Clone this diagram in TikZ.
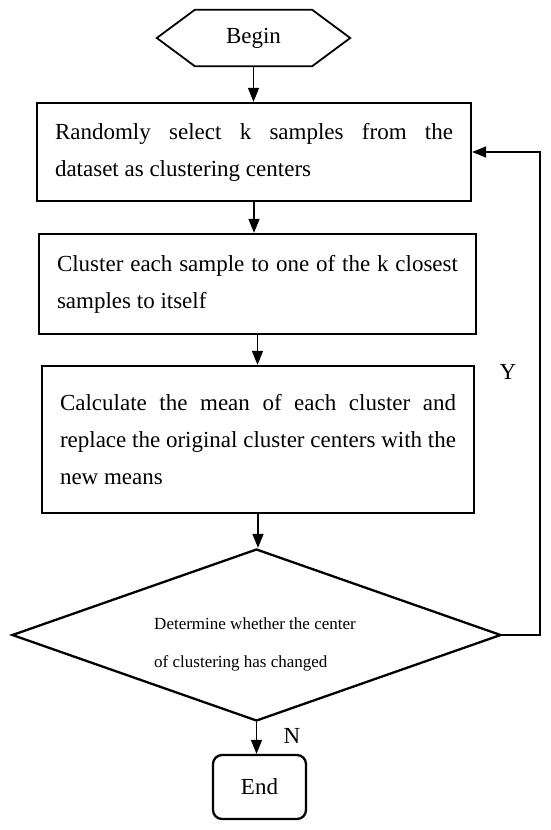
\documentclass[tikz,border=0pt]{standalone}
\usepackage{fontspec}
\setmainfont{Liberation Serif}
\usetikzlibrary{shapes.geometric,arrows.meta}

\begin{document}
\begin{tikzpicture}[x=1pt,y=-1pt,
    box/.style={draw, line width=2.3pt, inner xsep=18pt, inner ysep=0pt, align=justify, font=\fontsize{23}{37}\selectfont},
    arr/.style={line width=1.4pt, -{Triangle[width=11pt,length=14pt]}}]
    \useasboundingbox (0,0) rectangle (550,830);

    \node (begin) [minimum width=193pt, minimum height=56pt, font=\fontsize{23}{27}\selectfont] at (253.5,38) {Begin};
    \draw[line width=1.8pt] (begin.west) -- ([xshift=38pt]begin.north west) -- ([xshift=-38pt]begin.north east)
        -- (begin.east) -- ([xshift=-38pt]begin.south east) -- ([xshift=38pt]begin.south west) -- cycle;

    \node (sel) [box, text width=398pt, minimum height=98pt] at (254,152)
        {Randomly select k samples from the\linebreak dataset as clustering centers};
    \node (clu) [box, text width=401pt, minimum height=100pt] at (257.5,284)
        {Cluster each sample to one of the k closest\linebreak samples to itself};
    \node (calc) [box, text width=396pt, minimum height=147pt] at (258,439.5)
        {Calculate the mean of each cluster and\linebreak replace the original cluster centers with the\linebreak new means};

    \node (dec) [draw, diamond, line width=2.3pt, inner sep=0pt, minimum width=489pt, minimum height=172pt] at (256.5,635) {};
    \node (dtext) [align=left, font=\fontsize{17}{38}\selectfont] at (255,644)
        {Determine whether the center\\of clustering has changed};

    \node (end) [draw, rounded corners=9pt, line width=2.3pt, minimum width=93pt, minimum height=64pt, font=\fontsize{23}{27}\selectfont] at (259.5,787) {End};

    \node (ylab) [font=\fontsize{23}{27}\selectfont] at (508,372) {Y};
    \node (nlab) [font=\fontsize{23}{27}\selectfont] at (292,736) {N};

    \draw[arr] (begin.south) -- (begin.south |- sel.north);
    \draw[arr] (sel.south) -- (sel.south |- clu.north);
    \draw[arr] (clu.south) -- (clu.south |- calc.north);
    \draw[arr] (calc.south) -- (calc.south |- dec.north);
    \draw[arr] (dec.south) -- (dec.south |- end.north);

    % loop back when the centers changed
    \coordinate (ret) at (540,152);
    \draw[arr] (dec.east) -| (ret) -- (sel.east);
\end{tikzpicture}
\end{document}
